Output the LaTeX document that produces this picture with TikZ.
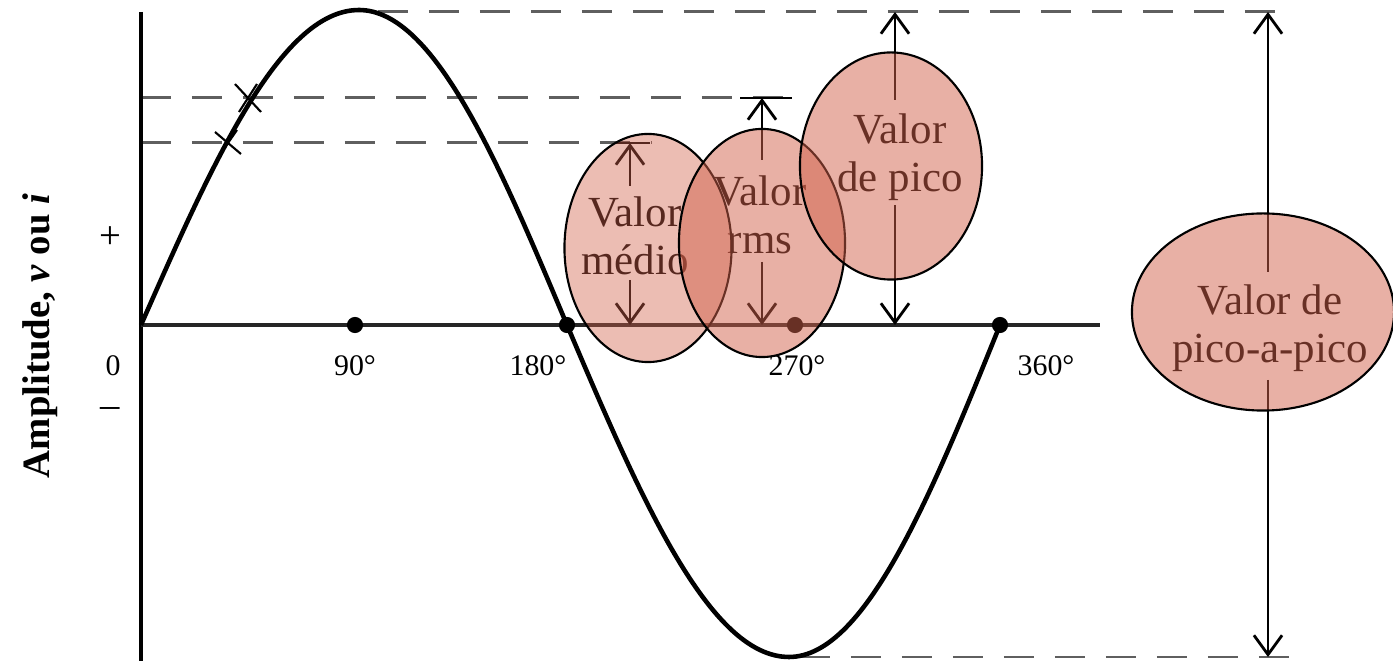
\documentclass[tikz,border=0pt]{standalone}
\usepackage{fontspec}
\setmainfont{Liberation Serif}
\usetikzlibrary{arrows.meta,shapes.geometric,calc}
\definecolor{ovl}{RGB}{209,97,75}
\definecolor{dashgray}{RGB}{95,95,95}
\tikzset{
  wave/.style={line width=1.3pt, line join=round},
  axisline/.style={line width=0.9pt},
  guide/.style={dashgray, line width=0.85pt, dash pattern=on 8.5pt off 6pt},
  meas/.style={line width=0.8pt, -{Straight Barb[length=5.5pt,width=8pt]}},
  bubble/.style={ellipse, draw=black, line width=0.6pt, fill=ovl, fill opacity=0.5, draw opacity=1, inner sep=0pt},
  lbl/.style={font=\fontsize{12.2}{13.6}\selectfont, align=center, inner sep=0pt},
  tick/.style={font=\fontsize{8.5}{10}\selectfont, inner sep=0pt},
  dot/.style={circle, fill=black, inner sep=0pt, minimum size=4.6pt}
}
\begin{document}
\begin{tikzpicture}[x=0.01cm,y=-0.01cm]
\useasboundingbox (0,0) rectangle (1393,661);
% guide (dashed) lines
\coordinate (pk1) at (378,12);   \coordinate (pk2) at (1292,12);
\coordinate (rm1) at (141,98);   \coordinate (rm2) at (792,98);
\coordinate (md1) at (141,143);  \coordinate (md2) at (652,143);
\coordinate (tr1) at (800,657);  \coordinate (tr2) at (1292,657);
\draw[guide] (pk1) -- (pk2);
\draw[guide] (rm1) -- (rm2);
\draw[guide] (md1) -- (md2);
\draw[guide] (tr1) -- (tr2);
% axes
\coordinate (o) at (141,325);
\coordinate (ytop) at (141,12);
\coordinate (ybot) at (141,661);
\coordinate (xend) at (1100,325);
\draw[axisline] (ytop) -- (ybot);
\draw[line width=1.05pt, black!85] (o) -- (xend);
% wave
\draw[wave] plot[domain=141:359, samples=60, variable=\t] (\t, {325-315*sin((\t-141)/218*90)})
  -- plot[domain=359:567, samples=60, variable=\t] (\t, {325-315*sin(90+(\t-359)/208*90)})
  -- plot[domain=567:789, samples=60, variable=\t] (\t, {325+332*sin((\t-567)/222*90)})
  -- plot[domain=789:1000, samples=60, variable=\t] (\t, {325+332*sin(90+(\t-789)/211*90)});
% crosses on wave
\coordinate (xa) at (248,98);
\coordinate (xb) at (228,143);
\draw[line width=0.6pt] ($(xa)+(-13,-14)$) -- ($(xa)+(13,14)$) ($(xa)+(-9,14)$) -- ($(xa)+(9,-14)$);
\draw[line width=0.6pt] ($(xb)+(-13,-11)$) -- ($(xb)+(13,11)$) ($(xb)+(-9,13)$) -- ($(xb)+(9,-13)$);
% dots on axis
\node[dot] (d90) at (355,325) {};
\node[dot] (d180) at (567,325) {};
\node[dot] (d270) at (795,325) {};
\node[dot] (d360) at (1000,325) {};
% tick labels
\node[tick] (t0) at (113,366) {0};
\node[tick] (t90) at (355,366) {90°};
\node[tick] (t180) at (538,366) {180°};
\node[tick] (t270) at (797,366) {270°};
\node[tick] (t360) at (1046,366) {360°};
\node[font=\fontsize{11}{12}\selectfont, inner sep=0pt] (plus) at (110,238) {+};
\node[font=\fontsize{11}{12}\selectfont, inner sep=0pt] (minus) at (110,413) {–};
\node[rotate=90, font=\fontsize{11}{12}\selectfont\bfseries, inner sep=0pt] (ylab) at (40,336) {Amplitude, \textit{v} ou \textit{i}};
% labels
\node[lbl] (lmed) at (635,236) {Valor\\médio};
\node[lbl] (lrms) at (760,215) {Valor\\rms};
\node[lbl] (lpk) at (900,157) {Valor\\de pico};
\node[lbl] (lpp) at (1270,328) {Valor de\\pico-a-pico};
% measurement arrows
\coordinate (medtop) at (630,143); \coordinate (medbot) at (630,325);
\coordinate (rmstop) at (762,98);  \coordinate (rmsbot) at (762,325);
\coordinate (pktop) at (895,12);   \coordinate (pkbot) at (895,325);
\coordinate (pptop) at (1268,12);  \coordinate (ppbot) at (1268,657);
\draw[line width=0.8pt] (615,143) -- (650,143);
\draw[line width=0.8pt] (740,98) -- (792,98);
\draw[meas] (630,186) -- (medtop);
\draw[meas] (630,280) -- (medbot);
\draw[meas] (762,160) -- (rmstop);
\draw[meas] (762,262) -- (rmsbot);
\draw[meas] (895,100) -- (pktop);
\draw[meas] (895,205) -- (pkbot);
\draw[meas] (1268,272) -- (pptop);
\draw[meas] (1268,380) -- (ppbot);
% overlay ellipses
\node[bubble, minimum width=1.67cm, minimum height=2.28cm, fill opacity=0.42] (emed) at (648,248) {};
\node[bubble, minimum width=1.66cm, minimum height=2.28cm] (erms) at (762,243) {};
\node[bubble, minimum width=1.82cm, minimum height=2.27cm] (epk) at (891,166) {};
\node[bubble, minimum width=2.62cm, minimum height=1.97cm] (epp) at (1263,312) {};
\end{tikzpicture}
\end{document}
